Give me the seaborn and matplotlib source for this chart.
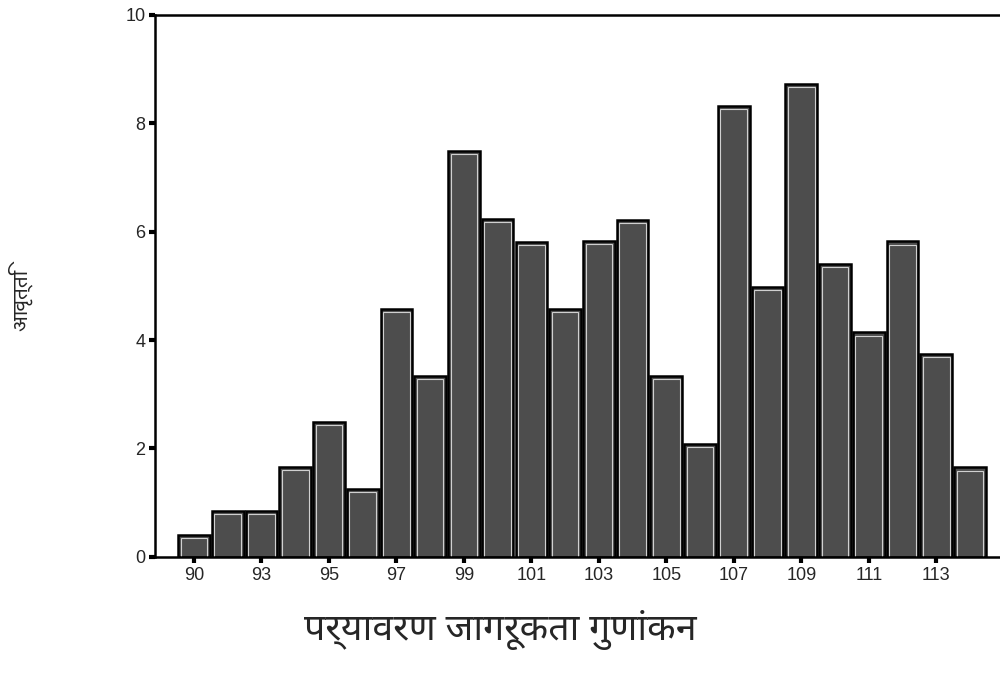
import matplotlib
matplotlib.use("Agg")
import os
import matplotlib.pyplot as plt
from matplotlib import font_manager
from matplotlib.patches import Rectangle
import seaborn as sns
import pandas as pd

# ---- data ----
scores = [90, 92, 93, 94, 95, 96, 97, 98, 99, 100, 101, 102, 103, 104,
          105, 106, 107, 108, 109, 110, 111, 112, 113, 114]
percent = [0.41, 0.85, 0.85, 1.66, 2.49, 1.25, 4.57, 3.34, 7.49, 6.23, 5.81, 4.57,
           5.83, 6.22, 3.34, 2.08, 8.32, 4.98, 8.72, 5.40, 4.14, 5.82, 3.74, 1.65]
tick_labels = ["90", "93", "95", "97", "99", "101", "103", "105", "107", "109", "111", "113"]
y_ticks = [0, 2, 4, 6, 8, 10]
x_title = "पर्यावरण जागरूकता गुणांकन"
y_title = "आवृत्ति"

# ---- pick a Devanagari font (prefer Noto Sans Devanagari) ----
prefs = ["NotoSansDevanagari-Regular", "NotoSansDevanagari-Medium",
         "NotoSansDevanagariUI-Regular", "NotoSansDevanagari",
         "Mukta-Regular", "Hind-Regular", "Palanquin-Regular", "Sarala-Regular",
         "Khula-Regular", "Biryani-Regular"]
all_fonts = font_manager.findSystemFonts()
deva_path = None
for pref in prefs:
    for f in sorted(all_fonts):
        if os.path.basename(f).startswith(pref):
            deva_path = f
            break
    if deva_path:
        break
if deva_path is None:
    try:
        from fontTools.ttLib import TTFont
        for f in sorted(all_fonts):
            if "unifont" in f.lower():
                continue
            try:
                cmap = TTFont(f, fontNumber=0, lazy=True).getBestCmap()
                if cmap and 0x092A in cmap:
                    deva_path = f
                    break
            except Exception:
                continue
    except Exception:
        pass

sns.set_theme(style="white")
plt.rcParams["font.family"] = ["Liberation Sans", "DejaVu Sans"]

df = pd.DataFrame({"score": [str(s) for s in scores], "pct": percent})

fig = plt.figure(figsize=(10, 6.75), dpi=100)
ax = fig.add_axes([0.155, 0.175, 0.845, 0.803])

sns.barplot(data=df, x="score", y="pct", order=df["score"], color="#4d4d4d",
            saturation=1, width=0.94, edgecolor="black", linewidth=1.8, ax=ax)

# inner light outline on each bar
for p in list(ax.patches):
    x0, y0 = p.get_x(), p.get_y()
    w, h = p.get_width(), p.get_height()
    ax.add_patch(Rectangle((x0 + w * 0.08, y0), w * 0.84, h - 0.06 if h > 0.1 else h,
                           fill=False, edgecolor="#d0d0d0", linewidth=0.8,
                           zorder=p.get_zorder() + 0.1))

ax.set_xlim(-1.156, 23.89)
ax.set_ylim(0, 10)

cats = [str(s) for s in scores]
ax.set_xticks([cats.index(t) for t in tick_labels])
ax.set_xticklabels(tick_labels, fontsize=13)
ax.set_yticks(y_ticks)
ax.set_yticklabels([str(v) for v in y_ticks], fontsize=13)
ax.tick_params(axis="both", direction="out", length=4, width=3, color="black",
               pad=3, bottom=True, left=True)
ax.set_xlabel("")
ax.set_ylabel("")

for side in ["left", "bottom", "top"]:
    ax.spines[side].set_visible(True)
    ax.spines[side].set_color("black")
    ax.spines[side].set_linewidth(1.8)
ax.spines["right"].set_visible(False)

if deva_path is not None:
    fx = font_manager.FontProperties(fname=deva_path, size=27)
    fy = font_manager.FontProperties(fname=deva_path, size=15)
    fig.text(0.50, 0.067, x_title, fontproperties=fx, ha="center", va="center")
    fig.text(0.02, 0.555, y_title, fontproperties=fy, ha="center", va="center", rotation=90)
else:
    fig.text(0.50, 0.067, x_title, fontsize=27, ha="center", va="center")
    fig.text(0.02, 0.555, y_title, fontsize=15, ha="center", va="center", rotation=90)

fig.savefig("out.png", dpi=100, facecolor="white")
